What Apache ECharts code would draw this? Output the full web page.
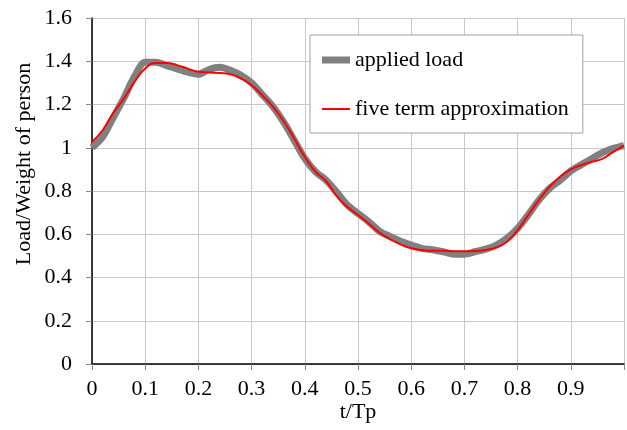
<!DOCTYPE html>
<html>
<head>
<meta charset="utf-8">
<script src="https://cdn.jsdelivr.net/npm/echarts@6/dist/echarts.min.js"></script>
<style>html,body{margin:0;padding:0;background:#fff;}#c{width:627px;height:430px;}</style>
</head>
<body>
<div id="c"></div>
<script>
var tVals = [0,0.02,0.04,0.06,0.08,0.10,0.12,0.14,0.16,0.18,0.20,0.22,0.24,0.26,0.28,0.30,0.32,0.34,0.36,0.38,0.40,0.42,0.44,0.46,0.48,0.50,0.52,0.54,0.56,0.58,0.60,0.62,0.64,0.66,0.68,0.70,0.72,0.74,0.76,0.78,0.80,0.82,0.84,0.86,0.88,0.90,0.92,0.94,0.96,0.98,1.00];
var loadVals = [1.00,1.05,1.14,1.23,1.33,1.395,1.395,1.38,1.365,1.35,1.34,1.362,1.372,1.358,1.335,1.300,1.246,1.19,1.12,1.035,0.95,0.889,0.85,0.795,0.735,0.696,0.658,0.615,0.59,0.568,0.55,0.535,0.528,0.519,0.508,0.508,0.519,0.531,0.55,0.581,0.627,0.69,0.758,0.812,0.85,0.893,0.922,0.95,0.978,0.997,1.01];
var approxVals = [1.027,1.081,1.161,1.228,1.305,1.366,1.392,1.392,1.382,1.366,1.351,1.348,1.346,1.34,1.32,1.289,1.243,1.19,1.124,1.043,0.958,0.889,0.845,0.776,0.727,0.689,0.65,0.608,0.578,0.553,0.535,0.527,0.524,0.524,0.521,0.521,0.522,0.527,0.539,0.565,0.619,0.689,0.758,0.819,0.866,0.9,0.92,0.935,0.95,0.981,1.01];
var seriesNames = ['applied load','five term approximation'];
var xTitle = 't/Tp';
var yTitle = 'Load/Weight of person';

function pairs(xs, ys){ return xs.map(function(x,i){ return [x, ys[i]]; }); }

var FONT = 'Liberation Serif';
var FS = 22;
var chart = echarts.init(document.getElementById('c'), null, {renderer:'canvas'});
chart.setOption({
  animation: false,
  backgroundColor: '#fff',
  grid: {left: 92, top: 18, right: -3, bottom: 66, containLabel: false},
  xAxis: {
    type: 'value', min: 0, max: 1, interval: 0.1,
    axisLine: {lineStyle: {color: '#000', width: 1.5}},
    axisTick: {show: true, length: 6, lineStyle: {color: '#888'}},
    axisLabel: {color: '#000', fontFamily: FONT, fontSize: FS, margin: 14,
      formatter: function(v){ return v >= 0.999 ? '' : String(Math.round(v*10)/10); }},
    splitLine: {show: true, lineStyle: {color: '#c8c8c8', width: 1}}
  },
  yAxis: {
    type: 'value', min: 0, max: 1.6, interval: 0.2,
    axisLine: {show: true, lineStyle: {color: '#000', width: 1.5}},
    axisTick: {show: true, length: 6, lineStyle: {color: '#888'}},
    axisLabel: {color: '#000', fontFamily: FONT, fontSize: FS, margin: 20},
    splitLine: {show: true, lineStyle: {color: '#c8c8c8', width: 1}}
  },
  legend: {
    orient: 'vertical', left: 310, top: 35,
    padding: [14, 14, 13, 12],
    itemGap: 27, itemWidth: 28, itemHeight: 24,
    borderColor: '#a0a0a0', borderWidth: 1, backgroundColor: '#fff',
    textStyle: {color: '#000', fontFamily: FONT, fontSize: FS},
    data: [
      {name: seriesNames[0], icon: 'path://M0,0L28,0L28,7L0,7Z', itemStyle: {color: '#808080'}},
      {name: seriesNames[1], icon: 'path://M0,0L28,0L28,2L0,2Z', itemStyle: {color: '#ff0000'}}
    ]
  },
  graphic: [
    {type: 'text', x: 358, y: 412, style: {text: xTitle, font: FS + 'px "Liberation Serif"', fill: '#000', textAlign: 'center', textVerticalAlign: 'middle'}},
    {type: 'text', x: 24, y: 164, rotation: Math.PI/2, style: {text: yTitle, font: FS + 'px "Liberation Serif"', fill: '#000', textAlign: 'center', textVerticalAlign: 'middle'}}
  ],
  series: [
    {name: seriesNames[0], type: 'line', data: pairs(tVals, loadVals), smooth: 0.3, symbol: 'none',
      lineStyle: {color: '#808080', width: 7}, itemStyle: {color: '#808080'}, z: 2},
    {name: seriesNames[1], type: 'line', data: pairs(tVals, approxVals), smooth: 0.5, symbol: 'none',
      lineStyle: {color: '#ff0000', width: 2}, itemStyle: {color: '#ff0000'}, z: 3}
  ]
});
</script>
</body>
</html>
